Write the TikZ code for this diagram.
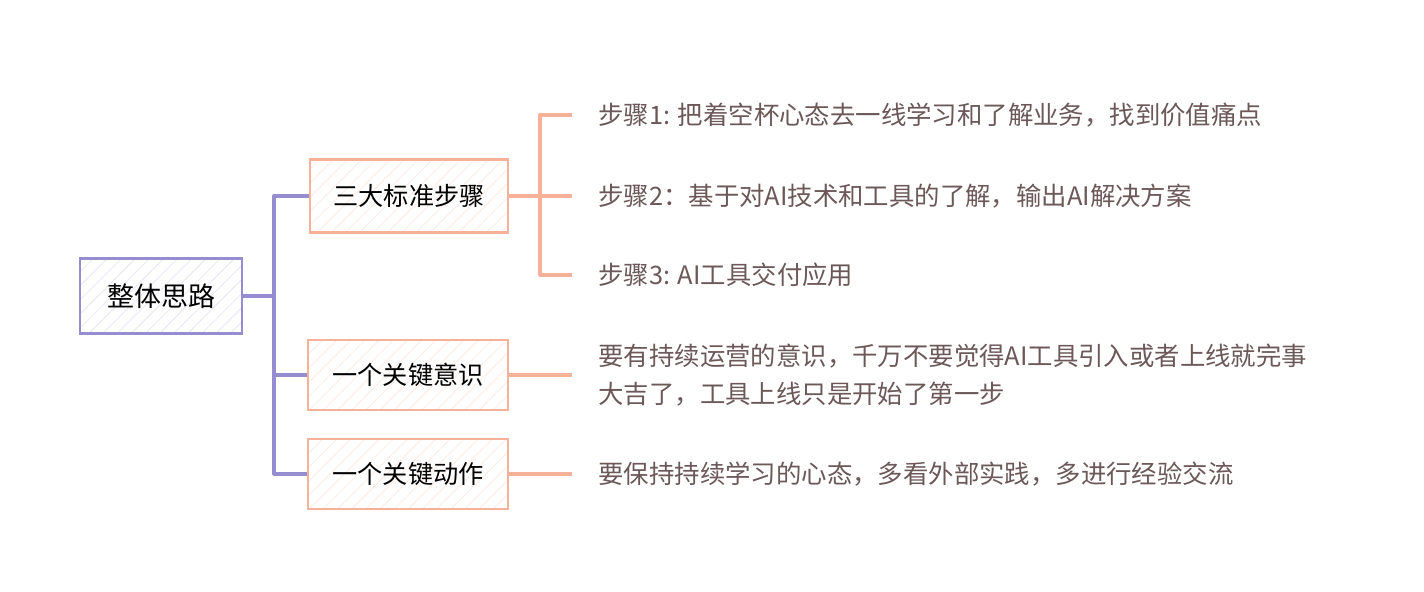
\documentclass[tikz,border=0pt]{standalone}
\usepackage{fontspec}
\newfontfamily\cjk{Noto Sans CJK SC}
\usetikzlibrary{patterns.meta}
\definecolor{rootline}{RGB}{150,140,208}
\definecolor{branchline}{RGB}{245,178,152}
\definecolor{leaftext}{RGB}{108,88,88}
\tikzset{
  rootbox/.style={draw=rootline, line width=1.2pt,
    pattern={Lines[angle=45,distance=5pt,line width=0.4pt]}, pattern color=rootline!22,
    minimum width=81pt, minimum height=37.5pt, inner sep=0pt,
    font=\cjk\fontsize{13.5}{16}\selectfont},
  branchbox/.style={draw=branchline, line width=1.2pt,
    pattern={Lines[angle=45,distance=5pt,line width=0.4pt]}, pattern color=branchline!25,
    minimum width=100pt, minimum height=35pt, inner sep=0pt,
    font=\cjk\fontsize{12.6}{15}\selectfont},
  leaf/.style={anchor=west, inner xsep=13pt, inner ysep=0pt, align=left,
    text=leaftext, font=\cjk\fontsize{12.7}{19}\selectfont}
}
\begin{document}
\begin{tikzpicture}[x=0.5pt, y=0.5pt]
      \fill[white] (0,0) rectangle (1424,592);
      \useasboundingbox (0,0) rectangle (1424,592);
      \node[rootbox] (root) at (161,296) {整体思路};
      \node[branchbox, minimum width=99pt, minimum height=36.5pt] (steps) at (409,396) {三大标准步骤};
      \node[branchbox] (aware) at (408,217) {一个关键意识};
      \node[branchbox] (act) at (408,118) {一个关键动作};
      \coordinate (hub) at (274,296);
      \coordinate (fork) at (540,396);
      \node[leaf] (s1) at (572,477) {步骤1: 把着空杯心态去一线学习和了解业务，找到价值痛点};
      \node[leaf] (s2) at (572,396) {步骤2：基于对AI技术和工具的了解，输出AI解决方案};
      \node[leaf] (s3) at (572,317) {步骤3: AI工具交付应用};
      \node[leaf] (a1) at (572,217) {要有持续运营的意识，千万不要觉得AI工具引入或者上线就完事\\大吉了，工具上线只是开始了第一步};
      \node[leaf] (c1) at (572,118) {要保持持续学习的心态，多看外部实践，多进行经验交流};
      \begin{scope}[rootline, line width=1.6pt, line join=round]
        \draw (root) to (hub);
        \draw (hub) |- (steps);
        \draw (hub) |- (aware);
        \draw (hub) |- (act);
      \end{scope}
      \begin{scope}[branchline, line width=1.6pt, line join=round]
        \draw (steps) to (fork);
        \draw (fork) |- (s1.west);
        \draw (fork) to (s2.west);
        \draw (fork) |- (s3.west);
        \draw (aware) to (a1.west);
        \draw (act) to (c1.west);
      \end{scope}
    \end{tikzpicture}
\end{document}
